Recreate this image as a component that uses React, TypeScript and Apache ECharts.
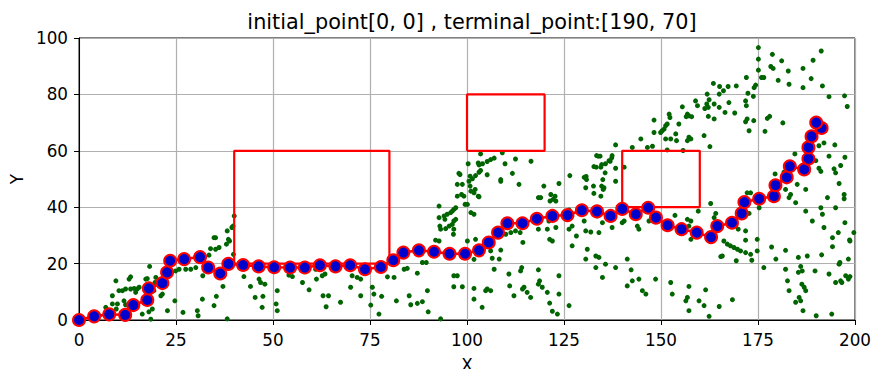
import React, { useEffect, useRef } from "react";
import * as echarts from "echarts";

const titleText = "initial_point[0, 0] , terminal_point:[190, 70]";
const xName = "X";
const yName = "Y";
const xTicks = [0, 25, 50, 75, 100, 125, 150, 175, 200];
const yTicks = [0, 20, 40, 60, 80, 100];

// obstacles: [x, y, width, height]
const obstacles = [
  [40, 20, 40, 40],
  [100, 60, 20, 20],
  [140, 40, 20, 20],
];

// final path nodes
const pathPts = [
  [0, 0], [3.9, 1.3], [7.8, 2.0], [11.9, 1.8], [14, 5.3], [17.6, 7.1], [18, 11.2], [21.5, 13.1],
  [22.7, 16.9], [23.5, 21.0], [27.1, 21.6], [31.2, 22.3], [33.3, 18.6], [36.4, 16.5], [38.5, 19.9],
  [42.3, 19.5], [46.3, 19.0], [50.3, 18.7], [54.4, 18.6], [58.2, 18.6], [62.1, 19.4], [66.1, 19.0],
  [69.9, 19.4], [73.7, 18.0], [77.8, 18.8], [81.0, 21.2], [83.6, 23.9], [87.6, 24.7], [91.5, 24.2],
  [95.5, 23.5], [99.5, 23.5], [103.1, 24.7], [105.6, 27.5], [108, 31.0], [110.4, 34.3], [114.3, 34.3],
  [118, 35.9], [122, 36.9], [125.9, 37.2], [129.6, 38.9], [133.5, 38.5], [137, 36.9], [140, 39.4],
  [143.5, 37.5], [146.7, 39.8], [148.7, 36.3], [151.7, 33.6], [155.3, 32.2], [159.2, 31.0], [162.9, 29.4],
  [164.5, 33.3], [168.3, 34.5], [170.8, 37.8], [171.5, 41.8], [175.3, 43.0], [179.1, 43.9], [179.5, 47.8],
  [182.4, 50.6], [183.2, 54.5], [186.9, 53.4], [188, 57.2], [188, 61.2], [188.8, 65.1], [191.4, 68.1],
  [190, 70],
];

// sampled tree nodes
const treeNodes = [
  [103.5,58.9],[109.1,59.3],[100.3,55.4],[103.1,55],[104,55.4],[105.2,56.2],[106.1,56.9],[107,57.4],[109.8,55.4],[112.5,57.1],[116.5,56.3],[97.9,52],[103.5,53],[103.1,52.4],[102.2,51.2],[101.4,50.1],[105.2,51.5],[111.7,52],[108.7,49.8],[126.5,51.2],[130.7,50.9],[132.7,54.4],[133.3,54.2],[133.8,58.1],
  [175.1,96.6],[175.1,92.5],[178.7,94.2],[181.1,91.9],[191.3,95.4],[189.2,92.1],[178.3,89.9],[178.9,89.2],[175.1,88.6],[182.8,88.3],[186.6,89.2],[175.9,86],[176.5,86],[172,86],[180.2,85],[183,83.6],[188.7,85.6],[191.6,83],[186.6,82.4],[174.4,83.3],[174,82.4],[172.4,80.4],[173.8,79.3],[193.3,79.2],[197.3,79.5],[198,75.7],[163.5,83.9],[165.1,82.8],[166.1,81.3],[167.3,82.8],[169.4,83],[165,80.1],[161.9,80.1],[162.4,78.1],[161.8,76.6],[161.3,75],[162.2,75.4],[158.9,77.7],[159.4,76],[163.7,76.6],[165,75.4],[167.5,77.1],[166.5,73.6],[169,73.4],[172,76],[163.7,71.3],[162.2,72.2],[155.5,75.6],[156.8,73],[156.5,72.1],[157.2,72.4],[157.9,72.1],[154.6,69.5],[152.1,73],[152.3,71.8],[151.6,69.5],[151.2,68.9],[150.8,67.7],[150.3,67.1],[149.9,66.5],[148.2,70.9],[148.2,66.5],[153.8,66],[154,63.6],[152.5,64.2],[151.2,64.2],[157.2,64.8],[156.8,63.6],[157.7,64.2],[161.1,65.4],[162.6,61.5],[144.8,64.2],[146.5,61.2],[147.8,61.6],[142.6,61.2],[151.6,60.3],[155.7,60.1],[138.3,62.1],[171.8,70.3],[172.2,71.3],[173.9,70.7],[172.7,67.1],[176.8,66.9],[177.4,71.5],[178,72.2],[181.4,69.9],[171.8,77.7],[137.4,58.3],[136.6,56.5],[135.7,55.4],[134.5,54.2],[138.3,53.8],[140.5,54.2],[190.7,61.8],[192,62.8],[194.8,62.1],[193.3,58.1],[197.4,57.7],[189.9,56.5],[190.7,53.8],[191.2,52.7],[194.6,53.6],[195,52.2],[196.3,54.8],[179.4,51.8],[184.5,58.9],[181.7,52.4],
  [40,36.9],[39.7,33.3],[39.4,32.8],[38.2,31.6],[38.8,28],[38.5,28.6],[38,26.9],[35.2,29.2],[34.8,29.2],[36.1,25.7],[35.2,25.1],[33.9,25.3],[33.5,23],[32.2,19.2],[31.9,15.7],[30.1,18.6],[28.8,18],[27.5,18],[25.8,18],[24.9,17.4],[18.2,19],[17.6,14.7],[17.2,14.5],[15.5,11.6],[15,11],[14.2,11.2],[13.3,11],[12.9,14.5],[13.3,15.3],[14.6,9.8],[12,11],[11.2,10.4],[10.3,10.4],[9.5,13.9],[8.6,8.6],[9.9,5.7],[8.6,5.7],[6.9,4.5],[11.6,6.8],[12,5.4],[9.6,3.9],[7.7,3.3],[3.4,2.7],[5.2,1.5],[12.9,3.9],[19.8,15.1],[19.6,13.3],[19.3,10.4],[21.1,8.6],[21.5,9.2],[18.9,3.9],[18,2.9],[16.3,2.1],[18.5,0.3],[22.8,3.3],[24.7,6.8],[26.8,2.7],[31.8,7.4],[30.5,3.3],[30.7,1.5],[34.8,5.1],[35.4,8.4],[37.1,11.9],[38.2,0.4],[42.5,15.4],[44.2,11.9],[45.4,8],[47.4,8.4],[47.2,4.5],[46.4,14.5],[46.8,13.3],[47.9,12.7],[51.1,10.4],[50.8,5.7],[51.1,3.3],[54.1,15.9],[55,15.4],[57.6,13.3],[59.3,10.7],[61.2,14.5],[63.4,16.3],[62.7,15.7],[64.3,8.6],[62.9,8.6],[63.7,4.7],[61,18],[39.8,23.3],
  [97.5,48.1],[98.8,48.1],[100.5,49.2],[101,45.7],[101.8,45.1],[97.5,43.9],[99.2,43.9],[103.1,43.7],[108.7,49.2],[113.4,48.1],[119.8,47.5],[123.7,48.4],[119,43.4],[121.6,44.5],[122.9,42.2],[130.6,46.9],[132.7,44.9],
  [92.8,40.4],[94.1,36.9],[94.9,37.5],[95.8,38.1],[96.2,38.6],[96.6,39.2],[97.1,39.8],[92.8,36.3],[93.2,32.2],[94.5,32.4],[95.4,33.3],[96.2,33.9],[96.6,35.1],[97.1,35.7],[96.6,32.2],[92.8,28],[91.9,28.3],[100.1,41],[101,38.1],[101.8,37.5],[102.2,28.6],[101.8,21.5],[100.1,28],
  [70.4,15.7],[71.7,15.1],[72.6,14.5],[70,11.6],[72.6,8.6],[75.6,11.6],[76,9.2],[77.3,2.1],[75.2,5.3],[78,8.4],[79.5,15.3],[81.2,15.1],[83.8,18],[84.6,18.3],[87.2,16.6],[88.5,20.4],[89.5,20.4],[89.8,10.4],[85.1,8.6],[85.5,5.4],[87.2,5.9],[88.5,6.5],[90,2.9],[93.2,0.4],[81.8,6.8],[67.4,6.3],
  [96.6,15.7],[97.5,15.7],[96.6,11.8],[98.8,11.8],[101.8,11.2],[101.8,7.4],[103.9,4.5],[105.2,11],[104.8,10.4],[106.1,10.4],[107,18],[108.3,21.6],[108.7,24.8],[106.5,21.9],[106.1,24.5],
  [110.8,16.3],[111,12.1],[112.1,8.6],[114.3,11],[115.5,9.8],[116.4,8],[114.1,18.6],[113.8,17.4],[114.4,27.5],[114.7,11.6],[118.4,17.8],[118.7,13.9],[119.4,11.6],[121.3,28.6],[122,28],[123.7,15.7],[123.7,9.2],[126.3,5.1],[126.3,32.2],[127.1,33.3],[126.3,39],[128.2,29.8],[127.1,26.3],[130.2,35.1],[130.6,31.6],[131.9,31.2],[131,25.1],[130.6,21.6],[133.2,22.7],[133.2,18.6],[134,31],[133.6,36.9],[120.7,9.8],[121.3,6],[122,3.1],[123.3,2.1],[118.4,12.7],[118.4,32.2],[120.7,32.2],[122.9,32.8],[121.1,35.1],
  [110,30.4],[111.3,31],[112.5,31.6],[113.7,31],
  [98.2,51.6],[98.6,44.5],[99.5,41],[102.9,43.9],[102.9,55.7],[100.8,51],[102.1,46.3],[100.8,47.5],[118.4,43.4],[122.7,43.9],[122.2,42.8],[121.4,42.2],[134.3,58.1],[133.4,58.3],[137.3,57.5],[136.9,56.3],[134.7,55.1],[135.6,52.2],[135,49.8],[134.7,47.5],[130.2,50.6],[130.8,49.8],[132.6,47.5],[135.1,46.3],
  [94.3,35.7],[93,33.3],[96.5,30.4],
  [138.3,49.2],[135.3,46.9],[134.5,43.9],[134.9,34.5],[140,34.5],[140.5,35.1],[137.4,32.8],[143.9,33.3],[144.3,32.2],[146.9,35.1],[153.6,37.1],[156.8,35.7],[157.7,35.1],[162.8,41.3],[159.6,38.6],[164.1,37.8],[163.7,36.3],[157.2,33.3],[163.2,28.6],[157.7,28.6],[166.2,28],[167.1,26.9],[167.9,26.3],[168.8,25.7],[169.7,25.1],[170.5,24.5],[171.8,23.9],[173.1,23.3],[165.4,22.5],[165.8,22.7],[169.4,21],[173.4,21.2],[169.9,32.2],[171.8,31.6],[171.8,28.3],[174.8,24.5],[174.8,28.6],[175.3,39.8],[172.7,37.8],[172.2,45.1],[173.1,45.1],[180.4,47.5],[182.1,46.3],[183.4,44.5],[184.7,41.6],[185.1,48.1],[187.3,46.3],[192.9,43.4],[195.9,48.4],[197.2,44.5],[197.2,43],[183,43.4],[187.3,38.6],[191.2,39.8],[191.6,37.5],[195,39.8],[197.4,34.5],[189,35.1],[192,32.8],[195.7,31],[194.2,29.2],[198.6,28.4],[199.7,31],[178.5,25.9],[182.1,24.7],[179.6,21.6],[185.4,22.2],[187.7,22.7],[191.4,23.1],[194.2,26],[195.9,19.8],[198.3,21.6],[176.5,18.6],[182.1,18],[186,19],[185.4,16.9],[186.4,17.4],[189.7,17.4],[193.3,16.3],[182.6,13.9],[186.3,12.7],[186.9,11.6],[187.3,10.4],[185.6,8],[186,6.8],[184.7,6.3],[186.6,3.3],[190,1.5],[194,2.1],[195,13.3],[196.3,13.9],[197.6,15.7],[198.3,14.5],[183,10.4],[134,22.2],[135.7,19.8],[138.3,18.6],[142.3,17.8],[141.3,12.1],[142.6,13.9],[144.3,14.5],[145.2,10.4],[146.1,9.2],[148.6,14.5],[152.5,13.3],[152.9,9.2],[157.2,11.9],[156.8,8],[156.4,6.8],[159.8,6.8],[161.5,10.7],[161.1,5.1],[157.2,3.3],[165,4.8],[168.4,7.2],[162.4,1.3],[134.9,15.1],[141.3,21.6],
  [198.7,28],[196.1,20.4],[198.7,15.4],[196.6,13.3],
];

const FONT = "DejaVu Sans";

function rectLine(o: number[]) {
  const [x, y, w, h] = o;
  return [[x, y], [x + w, y], [x + w, y + h], [x, y + h], [x, y]];
}

export default function App() {
  const ref = useRef<HTMLDivElement>(null);
  useEffect(() => {
    document.body.style.margin = "0";
    const chart = echarts.init(ref.current!, null, { renderer: "svg" });
    const obstacleSeries = obstacles.map((o) => ({
      type: "line",
      data: rectLine(o),
      symbol: "none",
      lineStyle: { color: "#ff0000", width: 2.2 },
      z: 3,
      silent: true,
    }));
    chart.setOption({
      animation: false,
      backgroundColor: "#ffffff",
      title: {
        text: titleText,
        left: 467,
        top: 6,
        textAlign: "center",
        textStyle: { fontFamily: FONT, fontSize: 20.8, fontWeight: "normal", color: "#000" },
      },
      graphic: [
        {
          type: "text",
          x: 467,
          y: 365,
          silent: true,
          style: {
            text: xName,
            font: `16.8px "${FONT}"`,
            fill: "#000",
            textAlign: "center",
            textVerticalAlign: "middle",
            align: "center",
            verticalAlign: "middle",
          },
        },
      ],
      grid: {
        left: 79,
        right: 19,
        top: 38,
        bottom: 49,
        show: true,
        borderColor: "#000",
        borderWidth: 1,
        backgroundColor: "transparent",
        containLabel: false,
        outerBoundsMode: "none",
      },
      xAxis: {
        type: "value",
        min: xTicks[0],
        max: xTicks[xTicks.length - 1],
        interval: 25,
        axisLine: { show: true, lineStyle: { color: "#000", width: 1 } },
        axisTick: { show: true, inside: false, length: 5, lineStyle: { color: "#000" } },
        axisLabel: { fontFamily: FONT, fontSize: 16.8, color: "#000", margin: 11 },
        splitLine: { show: true, lineStyle: { color: "#b0b0b0", width: 1.2 } },
      },
      yAxis: {
        type: "value",
        min: yTicks[0],
        max: yTicks[yTicks.length - 1],
        interval: 20,
        name: yName,
        nameLocation: "middle",
        nameGap: 54,
        nameTextStyle: { fontFamily: FONT, fontSize: 16.8, color: "#000" },
        axisLine: { show: true, lineStyle: { color: "#000", width: 1 } },
        axisTick: { show: true, inside: false, length: 5, lineStyle: { color: "#000" } },
        axisLabel: { fontFamily: FONT, fontSize: 16.8, color: "#000", margin: 11 },
        splitLine: { show: true, lineStyle: { color: "#b0b0b0", width: 1.2 } },
      },
      series: [
        {
          type: "scatter",
          data: treeNodes,
          symbol: "circle",
          symbolSize: 5,
          itemStyle: { color: "#006400", opacity: 1 },
          z: 2,
          silent: true,
        },
        ...obstacleSeries,
        {
          type: "line",
          data: pathPts,
          symbol: "circle",
          symbolSize: 12,
          showSymbol: true,
          showAllSymbol: true,
          lineStyle: { color: "#ff0000", width: 2.5 },
          itemStyle: { color: "#0000cd", borderColor: "#ff0000", borderWidth: 2 },
          z: 5,
          silent: true,
        },
      ],
    });
    return () => chart.dispose();
  }, []);
  return <div ref={ref} style={{ width: 874, height: 369 }} />;
}
